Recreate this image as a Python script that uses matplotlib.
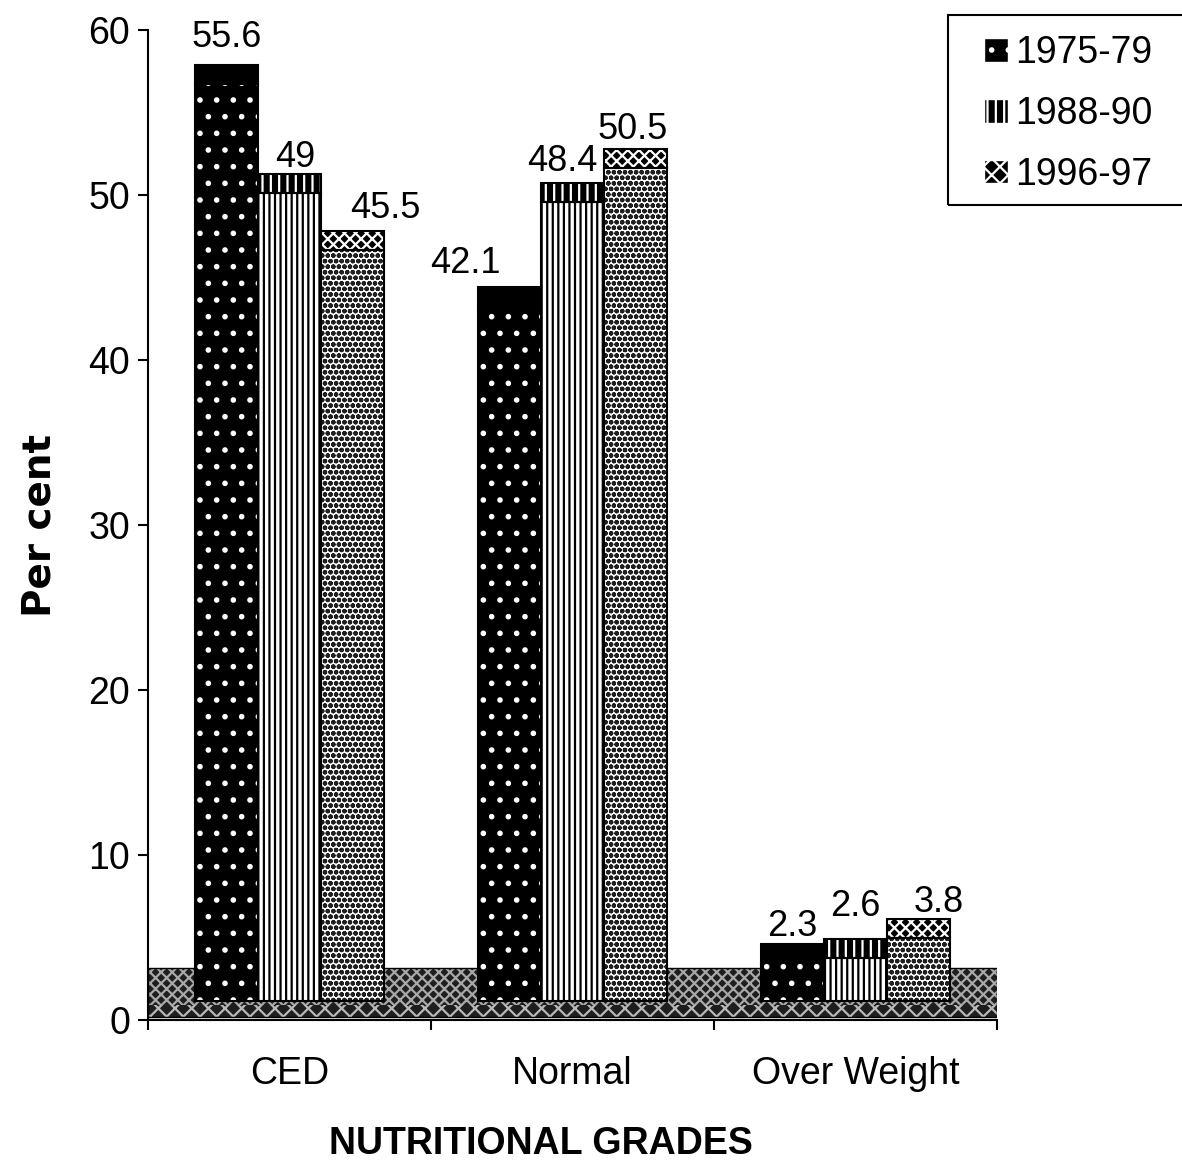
import matplotlib.pyplot as plt
from matplotlib import patches
from matplotlib.legend_handler import HandlerPatch

plt.rcParams['font.family'] = ['Liberation Sans', 'DejaVu Sans']
plt.rcParams['hatch.linewidth'] = 1.6

# Share of adults (per cent) by nutritional grade in three survey rounds
grades = ['CED', 'Normal', 'Over Weight']
periods = ['1975-79', '1988-90', '1996-97']
share_1975 = [55.6, 42.1, 2.3]
share_1988 = [49, 48.4, 2.6]
share_1996 = [45.5, 50.5, 3.8]
series = [share_1975, share_1988, share_1996]
y_ticks = [0, 10, 20, 30, 40, 50, 60]

# pseudo-3D geometry: bars stand on a floor slab and carry a top face
base = 1.15
cap = 1.15
bar_w = 0.222
shift = [-0.222, 0.0, 0.222]

# (face, hatch colour, hatch) for the front and the top of each series
front_style = [('black', 'white', '.'), ('white', 'black', '|||'), ('white', '#202020', 'ooo')]
top_style = [('black', 'black', ''), ('black', 'white', '||'), ('black', 'white', 'xxx')]

# value label nudges in pixels (dx, gap above the bar top)
label_dx = [[0, 6, 33], [-44, -10, -3], [0, 0, 20]]
label_gap = [[18, 7, 13], [14, 12, 10], [8, 23, 7]]

fig = plt.figure(figsize=(11.82, 11.73), dpi=100)
ax = fig.add_axes([148 / 1182, 1 - 1020 / 1173, 849 / 1182, 990 / 1173])

# floor slab: dark back band and a zigzag front strip
ax.add_patch(patches.Rectangle((-0.5, 0.9), 3, 2.25, facecolor='#1e1e1e', edgecolor='#a8a8a8',
                               hatch='xxx', lw=0, zorder=1))
ax.add_patch(patches.Rectangle((-0.5, 0.2), 3, 0.7, facecolor='#1e1e1e', edgecolor='#b8b8b8',
                               hatch='xx', lw=0, zorder=1))
ax.add_patch(patches.Rectangle((-0.5, 0.2), 3, 2.95, fill=False, edgecolor='black', lw=1.0, zorder=1))


def shaded_bar(x, bottom, height, style, z):
    face, hcol, hatch = style
    ax.bar(x, height, bar_w, bottom=bottom, facecolor=face, edgecolor=hcol,
           hatch=hatch, linewidth=0, zorder=z)
    ax.bar(x, height, bar_w, bottom=bottom, fill=False, edgecolor='black',
           linewidth=1.5, zorder=z + 0.1)


for s, vals in enumerate(series):
    for g, v in enumerate(vals):
        x = g + shift[s]
        shaded_bar(x, base, v, front_style[s], 3)
        shaded_bar(x, base + v, cap, top_style[s], 3)
        ax.annotate(f'{v:g}', (x, base + v + cap), xytext=(label_dx[g][s], label_gap[g][s]),
                    textcoords='offset pixels', ha='center', va='baseline', fontsize=26,
                    annotation_clip=False)

ax.set_xlim(-0.5, 2.5)
ax.set_ylim(0, 60)
for side in ('top', 'right'):
    ax.spines[side].set_visible(False)
for side in ('left', 'bottom'):
    ax.spines[side].set_linewidth(1.5)
    ax.spines[side].set_zorder(5)

ax.set_yticks(y_ticks)
ax.tick_params(axis='y', direction='out', length=7, width=1.5, labelsize=27, pad=6)
ax.set_xticks([-0.5, 0.5, 1.5, 2.5])
ax.set_xticklabels([])
ax.tick_params(axis='x', which='major', direction='out', length=7, width=1.5)
ax.set_xticks([0, 1, 2], minor=True)
ax.set_xticklabels(grades, minor=True)
ax.tick_params(axis='x', which='minor', length=0, labelsize=27, pad=26)

ax.set_xlabel('NUTRITIONAL GRADES', fontsize=27, fontweight='bold')
ax.xaxis.set_label_coords(0.463, -0.107)
ax.set_ylabel('Per cent', fontsize=28, fontweight='bold', family='DejaVu Sans')
ax.yaxis.set_label_coords(-0.105, 0.499)


def square_patch(legend, orig_handle, xdescent, ydescent, width, height, fontsize):
    s = height * 1.0
    return patches.Rectangle((-xdescent + width - s, -ydescent + (height - s) / 2), s, s)


handles = [patches.Patch(facecolor='black', edgecolor='white', hatch=h)
           for h in ('.', '||', 'xx')]
leg = fig.legend(handles, periods, loc='upper left', bbox_to_anchor=(948 / 1182, 1 - 22 / 1173),
                 fontsize=27, frameon=False,
                 handlelength=1.25, handleheight=0.6, handletextpad=0.2, labelspacing=0.66,
                 borderpad=0.35, borderaxespad=0,
                 handler_map={patches.Patch: HandlerPatch(patch_func=square_patch)})

# legend box runs off the right edge of the figure
fig.patches.append(patches.Rectangle((948 / 1182, 1 - 205 / 1173), 260 / 1182, 190 / 1173,
                                     transform=fig.transFigure, fill=False,
                                     edgecolor='black', lw=1.5))

fig.savefig('out.png', dpi=100)
